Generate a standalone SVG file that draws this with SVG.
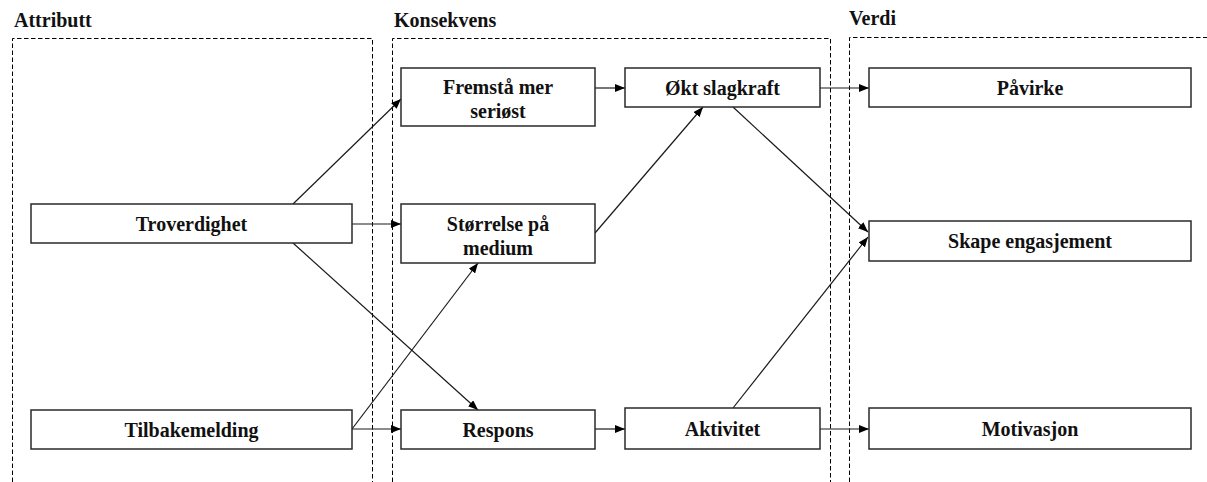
<svg xmlns="http://www.w3.org/2000/svg" width="1207" height="482" viewBox="0 0 1207 482">
  <style>
    .bg { fill: #ffffff; }
    .zone { fill: none; stroke: #000; stroke-width: 1; stroke-dasharray: 4.5 2.5; }
    .heading { font-family: "Liberation Serif", "Times New Roman", serif; font-weight: bold; font-size: 20px; fill: #111; }
    .box { fill: #ffffff; stroke: #2a2a2a; stroke-width: 1.5; }
    .label { font-family: "Liberation Serif", "Times New Roman", serif; font-weight: bold; font-size: 20px; fill: #111; text-anchor: middle; }
    .link { fill: none; stroke: #1a1a1a; stroke-width: 1.2; marker-end: url(#arrow); }
  </style>
  <defs>
    <marker id="arrow" viewBox="0 0 10 8" refX="10" refY="4" markerWidth="10" markerHeight="8" markerUnits="userSpaceOnUse" orient="auto">
      <path d="M0,0 L10,4 L0,8 Z" fill="#000"/>
    </marker>
  </defs>

  <rect class="bg" x="0" y="0" width="1207" height="482"/>

  <!-- Column frames (open at the bottom) -->
  <g id="zones">
    <path class="zone" d="M12.5,482 V38.5 H372.5 V482"/>
    <path class="zone" d="M392.5,482 V38.5 H830.5 V482"/>
    <path class="zone" d="M849.5,482 V37.5 H1207"/>
    <text class="heading" x="14" y="27">Attributt</text>
    <text class="heading" x="394" y="27">Konsekvens</text>
    <text class="heading" x="849" y="25">Verdi</text>
  </g>

  <!-- Connectors -->
  <g id="connectors">
    <line class="link" x1="293" y1="204" x2="401" y2="99"/>
    <line class="link" x1="352" y1="224" x2="401" y2="224"/>
    <line class="link" x1="293" y1="243" x2="478" y2="410"/>
    <line class="link" x1="352" y1="429" x2="478" y2="263"/>
    <line class="link" x1="352" y1="429" x2="401" y2="429"/>
    <line class="link" x1="595" y1="88" x2="625" y2="88"/>
    <line class="link" x1="595" y1="233" x2="703" y2="107"/>
    <line class="link" x1="733" y1="107" x2="868" y2="232"/>
    <line class="link" x1="595" y1="429" x2="625" y2="429"/>
    <line class="link" x1="733" y1="408" x2="868" y2="237"/>
    <line class="link" x1="820" y1="88" x2="869" y2="88"/>
    <line class="link" x1="820" y1="429" x2="869" y2="429"/>
  </g>

  <!-- Attributes -->
  <g id="troverdighet">
    <rect class="box" x="31" y="204" width="321" height="39"/>
    <text class="label" x="191.5" y="231">Troverdighet</text>
  </g>
  <g id="tilbakemelding">
    <rect class="box" x="31" y="410" width="321" height="39"/>
    <text class="label" x="191.5" y="437">Tilbakemelding</text>
  </g>

  <!-- Consequences -->
  <g id="fremsta">
    <rect class="box" x="401" y="68" width="194" height="58"/>
    <text class="label" x="498" y="94">Fremstå mer</text>
    <text class="label" x="498" y="118">seriøst</text>
  </g>
  <g id="slagkraft">
    <rect class="box" x="625" y="68" width="195" height="39"/>
    <text class="label" x="722.5" y="95">Økt slagkraft</text>
  </g>
  <g id="storrelse">
    <rect class="box" x="401" y="204" width="194" height="59"/>
    <text class="label" x="498" y="231">Størrelse på</text>
    <text class="label" x="498" y="255">medium</text>
  </g>
  <g id="respons">
    <rect class="box" x="401" y="410" width="194" height="39"/>
    <text class="label" x="498" y="437">Respons</text>
  </g>
  <g id="aktivitet">
    <rect class="box" x="625" y="408" width="195" height="41"/>
    <text class="label" x="722.5" y="436">Aktivitet</text>
  </g>

  <!-- Values -->
  <g id="pavirke">
    <rect class="box" x="869" y="68" width="322" height="39"/>
    <text class="label" x="1030" y="95">Påvirke</text>
  </g>
  <g id="engasjement">
    <rect class="box" x="869" y="221" width="322" height="40"/>
    <text class="label" x="1030" y="248">Skape engasjement</text>
  </g>
  <g id="motivasjon">
    <rect class="box" x="869" y="408" width="322" height="41"/>
    <text class="label" x="1030" y="436">Motivasjon</text>
  </g>
</svg>
